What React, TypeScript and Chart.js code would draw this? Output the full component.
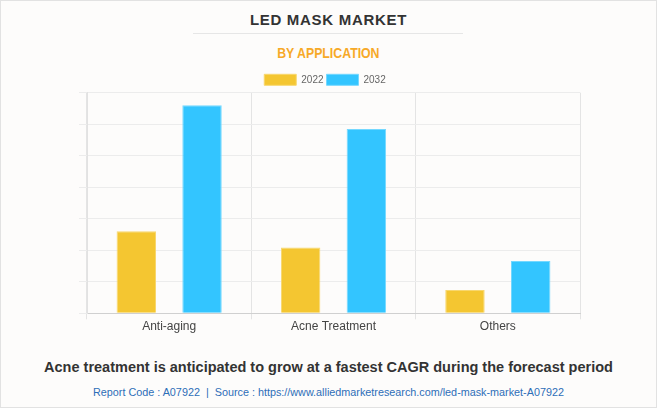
import React, { useEffect, useRef } from "react";
import { Chart, registerables } from "chart.js";

Chart.register(...registerables);

const categories = ["Anti-aging", "Acne Treatment", "Others"];
const seriesNames = ["2022", "2032"];
const values2022 = [2.6, 2.09, 0.74];
const values2032 = [6.6, 5.85, 1.66];
const yMax = 7;
const yStep = 1;

const FONT = "'Liberation Sans', Arial, Helvetica, sans-serif";

const legendTweak = {
  id: "legendTweak",
  beforeUpdate(chart: any) {
    const lg = chart.legend;
    if (lg && !lg.__patched) {
      const orig = lg.fit.bind(lg);
      lg.fit = function () {
        orig();
        this.height -= 2.6;
      };
      lg.__patched = true;
    }
  },
  afterLayout(chart: any) {
    const lg = chart.legend;
    if (lg) {
      lg.left -= 4.5;
      lg.right -= 4.5;
    }
  },
};

export default function App() {
  const canvasRef = useRef<HTMLCanvasElement | null>(null);

  useEffect(() => {
    const canvas = canvasRef.current;
    if (!canvas) return;
    const chart = new Chart(canvas, {
      type: "bar",
      data: {
        labels: categories,
        datasets: [
          {
            label: seriesNames[0],
            data: values2022,
            backgroundColor: "#f4c631",
            borderColor: "#f8d76e",
            borderWidth: 1,
          },
          {
            label: seriesNames[1],
            data: values2032,
            backgroundColor: "#33c5ff",
            borderColor: "#74d8ff",
            borderWidth: 1,
          },
        ],
      },
      options: {
        responsive: false,
        animation: false,
        maintainAspectRatio: false,
        layout: { padding: { top: 11.3, left: 79, right: 77, bottom: 8.3 } },
        datasets: { bar: { categoryPercentage: 0.8, barPercentage: 0.6 } } as any,
        plugins: {
          title: { display: false },
          tooltip: { enabled: false },
          legend: {
            display: true,
            position: "top",
            labels: {
              boxWidth: 32,
              boxHeight: 11,
              padding: 3,
              color: "#666",
              font: { family: FONT, size: 10 },
            },
          },
        },
        scales: {
          x: {
            grid: {
              color: (ctx: any) => (ctx.index === 3 ? "rgba(0,0,0,0)" : "#e4e4e4"),
              tickLength: 6,
              offset: true,
            },
            border: { color: "#d0d0d0" },
            ticks: {
              padding: 0,
              color: "#444",
              font: { family: FONT, size: 12 },
            },
          },
          y: {
            min: 0,
            max: yMax,
            grid: { color: "#ececec", tickLength: 8 },
            border: { color: "#e2e2e2" },
            ticks: { display: false, stepSize: yStep },
          },
        },
      },
      plugins: [legendTweak],
    });
    return () => chart.destroy();
  }, []);

  return (
    <div
      style={{
        position: "fixed",
        left: 0,
        top: 0,
        width: 657,
        height: 408,
        boxSizing: "border-box",
        border: "1px solid #e2e2e2",
        background: "#fdfcfb",
        fontFamily: FONT,
        overflow: "hidden",
      }}
    >
      <div
        style={{
          position: "absolute",
          left: -1,
          top: 9.4,
          width: 657,
          height: 20,
          lineHeight: "20px",
          textAlign: "center",
          fontWeight: "bold",
          fontSize: 15,
          letterSpacing: 0.7,
          color: "#333",
        }}
      >
        LED MASK MARKET
      </div>
      <div
        style={{
          position: "absolute",
          left: 192,
          top: 32,
          width: 270,
          height: 1,
          background: "#e6e6e6",
        }}
      />
      <div
        style={{
          position: "absolute",
          left: -1,
          top: 42,
          width: 657,
          height: 20,
          lineHeight: "20px",
          textAlign: "center",
        }}
      >
        <span
          style={{
            display: "inline-block",
            fontWeight: "bold",
            fontSize: 15,
            color: "#f7a928",
            transform: "scaleX(0.82)",
            transformOrigin: "center",
            whiteSpace: "nowrap",
          }}
        >
          BY APPLICATION
        </span>
      </div>
      <canvas
        ref={canvasRef}
        width={657}
        height={282}
        style={{ position: "absolute", left: -1, top: 59, width: 657, height: 282 }}
      />
      <div
        style={{
          position: "absolute",
          left: -1,
          top: 356,
          width: 657,
          height: 20,
          lineHeight: "20px",
          textAlign: "center",
          fontWeight: "bold",
          fontSize: 14.5,
          color: "#333",
        }}
      >
        Acne treatment is anticipated to grow at a fastest CAGR during the forecast period
      </div>
      <div
        style={{
          position: "absolute",
          left: -1,
          top: 382,
          width: 657,
          height: 18,
          lineHeight: "18px",
          textAlign: "center",
          fontSize: 10.8,
          color: "#2e6eb8",
        }}
      >
        Report Code : A07922&nbsp; |&nbsp; Source : https://www.alliedmarketresearch.com/led-mask-market-A07922
      </div>
    </div>
  );
}
